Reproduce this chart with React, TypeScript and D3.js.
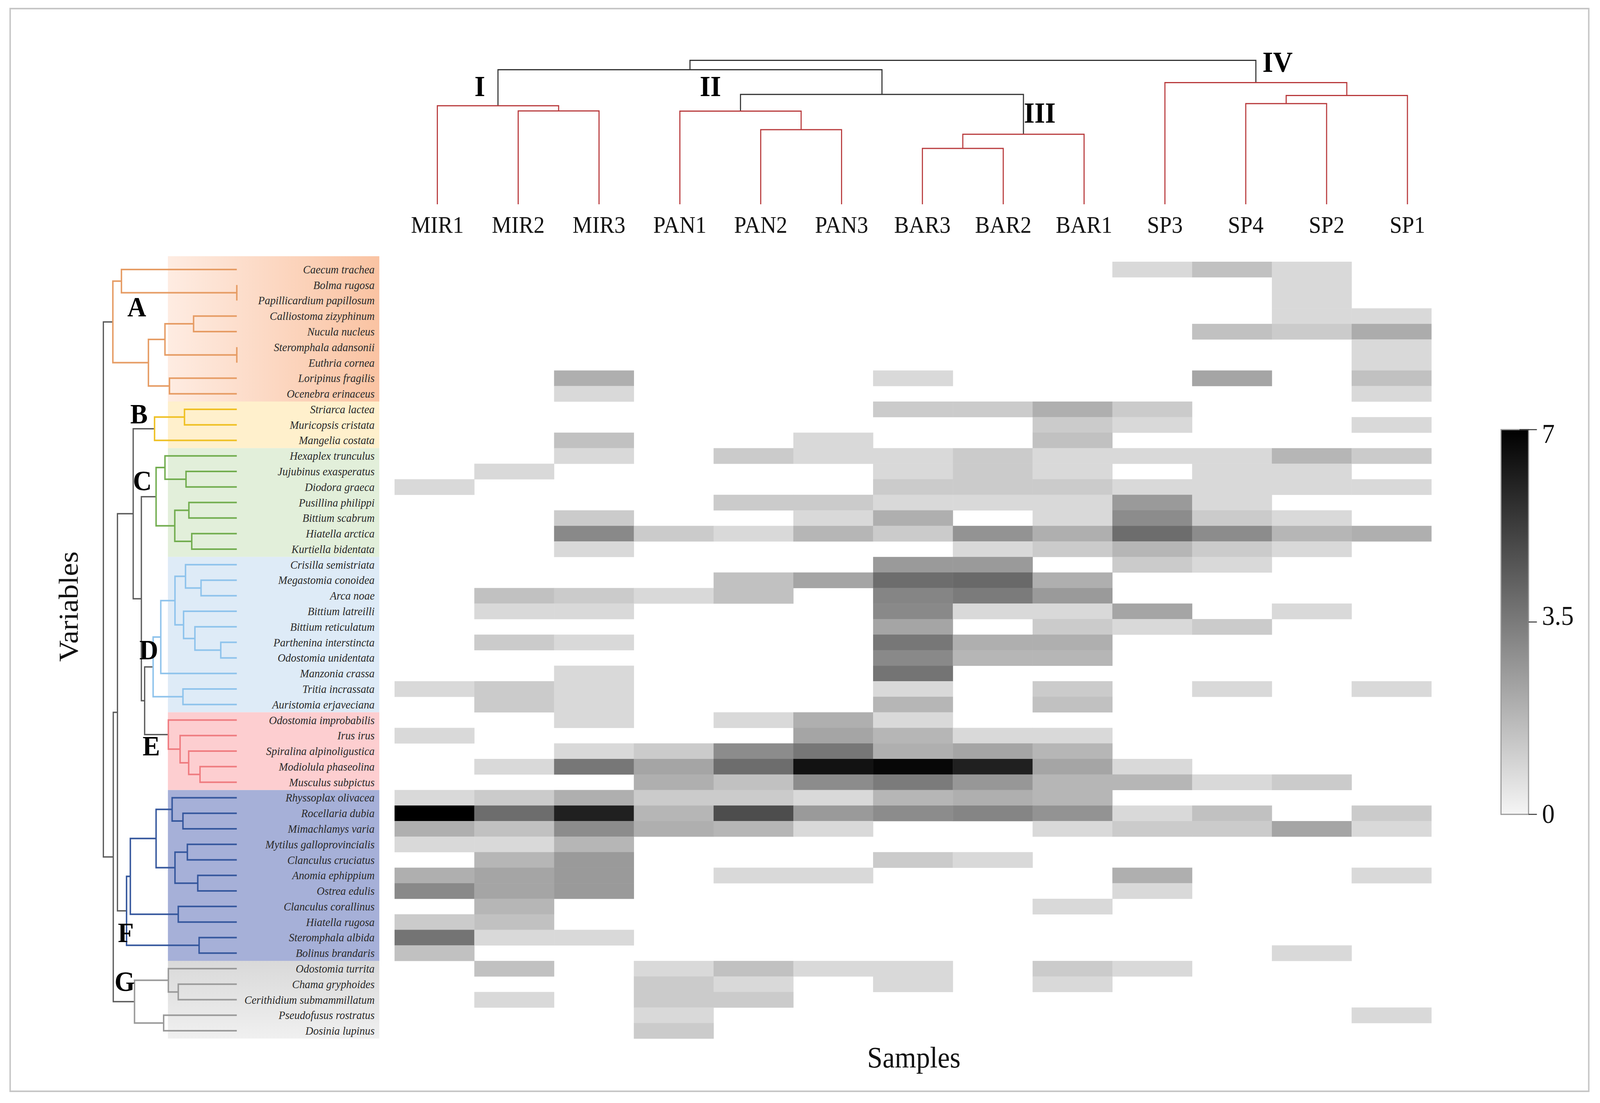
import * as d3 from "d3";

type Tree = { name?: string; height?: number; group?: string; children?: Tree[] };
const leaf = (c: Tree | string): Tree => (typeof c === "string" ? { name: c } : c);
const n = (height: number, a: Tree | string, b: Tree | string, group?: string): Tree => ({
  height,
  group,
  children: [leaf(a), leaf(b)],
});

// heatmap columns, in the order of the sample dendrogram
const samples = ["MIR1", "MIR2", "MIR3", "PAN1", "PAN2", "PAN3", "BAR3", "BAR2", "BAR1", "SP3", "SP4", "SP2", "SP1"];

const species = [
  "Caecum trachea", "Bolma rugosa", "Papillicardium papillosum", "Calliostoma zizyphinum", "Nucula nucleus",
  "Steromphala adansonii", "Euthria cornea", "Loripinus fragilis", "Ocenebra erinaceus",
  "Striarca lactea", "Muricopsis cristata", "Mangelia costata",
  "Hexaplex trunculus", "Jujubinus exasperatus", "Diodora graeca", "Pusillina philippi", "Bittium scabrum",
  "Hiatella arctica", "Kurtiella bidentata",
  "Crisilla semistriata", "Megastomia conoidea", "Arca noae", "Bittium latreilli", "Bittium reticulatum",
  "Parthenina interstincta", "Odostomia unidentata", "Manzonia crassa", "Tritia incrassata", "Auristomia erjaveciana",
  "Odostomia improbabilis", "Irus irus", "Spiralina alpinoligustica", "Modiolula phaseolina", "Musculus subpictus",
  "Rhyssoplax olivacea", "Rocellaria dubia", "Mimachlamys varia", "Mytilus galloprovincialis", "Clanculus cruciatus",
  "Anomia ephippium", "Ostrea edulis", "Clanculus corallinus", "Hiatella rugosa", "Steromphala albida", "Bolinus brandaris",
  "Odostomia turrita", "Chama gryphoides", "Cerithidium submammillatum", "Pseudofusus rostratus", "Dosinia lupinus",
];

// transformed abundance, one row per species, one column per sample (0 = absent)
const abundance: number[][] = [
  [0, 0, 0, 0, 0, 0, 0, 0, 0, 0.8, 1.5, 0.8, 0],
  [0, 0, 0, 0, 0, 0, 0, 0, 0, 0, 0, 0.8, 0],
  [0, 0, 0, 0, 0, 0, 0, 0, 0, 0, 0, 0.8, 0],
  [0, 0, 0, 0, 0, 0, 0, 0, 0, 0, 0, 0.8, 0.8],
  [0, 0, 0, 0, 0, 0, 0, 0, 0, 0, 1.5, 1.2, 2.1],
  [0, 0, 0, 0, 0, 0, 0, 0, 0, 0, 0, 0, 0.8],
  [0, 0, 0, 0, 0, 0, 0, 0, 0, 0, 0, 0, 0.8],
  [0, 0, 2.0, 0, 0, 0, 0.8, 0, 0, 0, 2.3, 0, 1.5],
  [0, 0, 0.8, 0, 0, 0, 0, 0, 0, 0, 0, 0, 0.8],
  [0, 0, 0, 0, 0, 0, 1.2, 1.2, 2.0, 1.2, 0, 0, 0],
  [0, 0, 0, 0, 0, 0, 0, 0, 1.2, 0.8, 0, 0, 0.8],
  [0, 0, 1.5, 0, 0, 0.8, 0, 0, 1.5, 0, 0, 0, 0],
  [0, 0, 0.8, 0, 1.2, 0.8, 0.8, 1.2, 0.8, 0.8, 0.8, 1.8, 1.2],
  [0, 0.8, 0, 0, 0, 0, 0.8, 1.2, 0.8, 0, 0.8, 0.8, 0],
  [0.8, 0, 0, 0, 0, 0, 1.2, 1.2, 1.2, 0.8, 0.8, 0.8, 0.8],
  [0, 0, 0, 0, 1.2, 1.2, 0.8, 0.8, 0.8, 2.6, 0.8, 0, 0],
  [0, 0, 1.2, 0, 0, 0.8, 2.0, 0, 0.8, 3.0, 1.2, 0.8, 0],
  [0, 0, 3.1, 1.2, 0.8, 1.8, 1.2, 2.8, 2.0, 3.9, 3.0, 1.8, 2.0],
  [0, 0, 0.8, 0, 0, 0, 0, 0.8, 1.2, 1.8, 1.2, 0.8, 0],
  [0, 0, 0, 0, 0, 0, 2.6, 2.6, 0, 1.2, 0.8, 0, 0],
  [0, 0, 0, 0, 1.5, 2.3, 3.9, 4.0, 2.0, 0, 0, 0, 0],
  [0, 1.5, 1.2, 0.8, 1.5, 0, 3.2, 3.5, 2.6, 0, 0, 0, 0],
  [0, 0.8, 0.8, 0, 0, 0, 3.1, 0.8, 0.8, 2.3, 0, 0.8, 0],
  [0, 0, 0, 0, 0, 0, 2.3, 0, 1.2, 0.8, 1.2, 0, 0],
  [0, 1.2, 0.8, 0, 0, 0, 3.6, 2.0, 2.0, 0, 0, 0, 0],
  [0, 0, 0, 0, 0, 0, 3.1, 1.8, 1.8, 0, 0, 0, 0],
  [0, 0, 0.8, 0, 0, 0, 3.7, 0, 0, 0, 0, 0, 0],
  [0.8, 1.2, 0.8, 0, 0, 0, 0.8, 0, 1.2, 0, 0.8, 0, 0.8],
  [0, 1.2, 0.8, 0, 0, 0, 1.8, 0, 1.5, 0, 0, 0, 0],
  [0, 0, 0.8, 0, 0.8, 2.0, 0.8, 0, 0, 0, 0, 0, 0],
  [0.8, 0, 0, 0, 0, 2.3, 1.8, 0.8, 0.8, 0, 0, 0, 0],
  [0, 0, 0.8, 1.2, 3.0, 3.6, 2.0, 2.3, 1.8, 0, 0, 0, 0],
  [0, 0.8, 3.6, 2.3, 3.9, 6.5, 6.8, 6.1, 2.3, 0.8, 0, 0, 0],
  [0, 0, 0, 2.0, 1.5, 3.0, 3.5, 2.7, 1.8, 1.8, 0.8, 1.2, 0],
  [0.8, 1.2, 2.0, 1.2, 1.2, 0.8, 1.8, 2.0, 1.8, 0, 0, 0, 0],
  [7.0, 3.9, 6.1, 1.8, 4.8, 2.6, 3.0, 3.2, 2.8, 0.8, 1.5, 0, 1.2],
  [2.0, 1.5, 3.0, 2.0, 1.8, 0.8, 0, 0, 0.8, 1.2, 1.2, 2.3, 0.8],
  [0.8, 0.8, 1.8, 0, 0, 0, 0, 0, 0, 0, 0, 0, 0],
  [0, 1.8, 2.6, 0, 0, 0, 1.2, 0.8, 0, 0, 0, 0, 0],
  [2.0, 2.3, 2.6, 0, 0.8, 0.8, 0, 0, 0, 2.0, 0, 0, 0.8],
  [3.1, 2.3, 2.6, 0, 0, 0, 0, 0, 0, 0.8, 0, 0, 0],
  [0, 1.8, 0, 0, 0, 0, 0, 0, 0.8, 0, 0, 0, 0],
  [1.2, 1.5, 0, 0, 0, 0, 0, 0, 0, 0, 0, 0, 0],
  [3.7, 0.8, 0.8, 0, 0, 0, 0, 0, 0, 0, 0, 0, 0],
  [1.5, 0, 0, 0, 0, 0, 0, 0, 0, 0, 0, 0.8, 0],
  [0, 1.5, 0, 0.8, 1.5, 0.8, 0.8, 0, 1.2, 0.8, 0, 0, 0],
  [0, 0, 0, 1.2, 0.8, 0, 0.8, 0, 0.8, 0, 0, 0, 0],
  [0, 0.8, 0, 1.2, 1.2, 0, 0, 0, 0, 0, 0, 0, 0],
  [0, 0, 0, 0.8, 0, 0, 0, 0, 0, 0, 0, 0, 0.8],
  [0, 0, 0, 1.2, 0, 0, 0, 0, 0, 0, 0, 0, 0],
];

const colorTicks = [0, 3.5, 7];

// species dendrogram (merge heights)
const speciesTree = n(
  13.06,
  n(12.13,
    n(11.29, "Caecum trachea", n(0, "Bolma rugosa", "Papillicardium papillosum")),
    n(8.65,
      n(7.03, n(4.23, "Calliostoma zizyphinum", "Nucula nucleus"), n(0, "Steromphala adansonii", "Euthria cornea")),
      n(6.59, "Loripinus fragilis", "Ocenebra erinaceus")),
    "A"),
  n(12.09,
    n(11.68,
      n(10.14,
        n(8.05, n(5.12, "Striarca lactea", "Muricopsis cristata"), "Mangelia costata", "B"),
        n(9.34,
          n(7.9,
            n(7.03, "Hexaplex trunculus", n(4.97, "Jujubinus exasperatus", "Diodora graeca")),
            n(6.07, n(4.69, "Pusillina philippi", "Bittium scabrum"), n(4.41, "Hiatella arctica", "Kurtiella bidentata")),
            "C"),
          n(9.02,
            n(8.19,
              n(7.44,
                n(6.05,
                  n(5.02, "Crisilla semistriata", n(3.5, "Megastomia conoidea", "Arca noae")),
                  n(5.21, "Bittium latreilli", n(4.1, "Bittium reticulatum", n(1.57, "Parthenina interstincta", "Odostomia unidentata")))),
                "Manzonia crassa"),
              n(5.27, "Tritia incrassata", "Auristomia erjaveciana"),
              "D"),
            n(6.7, "Odostomia improbabilis",
              n(5.55, "Irus irus", n(4.71, "Spiralina alpinoligustica", n(3.6, "Modiolula phaseolina", "Musculus subpictus"))),
              "E")))),
      n(10.79,
        n(10.42,
          n(7.9,
            n(6.33, "Rhyssoplax olivacea", n(5.27, "Rocellaria dubia", "Mimachlamys varia")),
            n(6.05, n(4.84, "Mytilus galloprovincialis", "Clanculus cruciatus"), n(3.82, "Anomia ephippium", "Ostrea edulis"))),
          n(5.73, "Clanculus corallinus", "Hiatella rugosa")),
        n(3.69, "Steromphala albida", "Bolinus brandaris"),
        "F")),
    n(10.01,
      n(6.7, "Odostomia turrita", n(5.73, "Chama gryphoides", "Cerithidium submammillatum")),
      n(7.16, "Pseudofusus rostratus", "Dosinia lupinus"),
      "G"))
);

// sample dendrogram
const sampleTree = n(
  13.1,
  n(12.25,
    n(8.97, "MIR1", n(8.5, "MIR2", "MIR3"), "I"),
    n(10.0,
      n(8.48, "PAN1", n(6.79, "PAN2", "PAN3"), "II"),
      n(6.37, n(5.08, "BAR3", "BAR2"), "BAR1", "III"))),
  n(11.07, "SP3", n(9.9, n(9.16, "SP4", "SP2"), "SP1"), "IV")
);

const groupStyle: Record<string, { line: string; fill: string; fill2?: string; vertical?: boolean; dx: number; dy: number }> = {
  A: { line: "#e69c64", fill: "#feece2", fill2: "#fac3a2", dx: 66, dy: -14 },
  B: { line: "#efc022", fill: "#fff0cc", dx: -43, dy: -14 },
  C: { line: "#72ad4f", fill: "#e2efda", dx: -38, dy: -17 },
  D: { line: "#8ec3ec", fill: "#deebf7", dx: -12, dy: -19 },
  E: { line: "#ef7c80", fill: "#fdced0", dx: -47, dy: 53 },
  F: { line: "#35579d", fill: "#a6b0d8", dx: -2, dy: 80 },
  G: { line: "#9a9a9a", fill: "#d9d9d9", fill2: "#f0f0f0", vertical: true, dx: -27, dy: -28 },
};
const clusterOffset: Record<string, [number, number]> = { I: [-50, -25], II: [-83, -38], III: [45, -30], IV: [60, -28] };

const W = 4412;
const H = 2824;
const serif = "'Liberation Serif', 'Times New Roman', serif";

const colX = d3.scaleBand(samples, [1088, 3947]);
const rowY = d3.scaleBand(species, [670, 2659]);
const leafX = d3.scalePoint(samples, [1206, 3881]);
const hx = d3.scaleLinear([0, 13.06], [653, 285]);
const hy = d3.scaleLinear([0, 13.1], [523, 154.5]);
const shade = d3.scaleLinear<string>().domain([0, 7]).range(["#f5f5f5", "#000000"]);
const barY = d3.scaleLinear([0, 7], [2085, 1100]);

function layoutSpecies() {
  const root: any = d3.hierarchy(speciesTree);
  root.eachAfter((d: any) => {
    d.h = d.data.height ?? 0;
    d.pos = d.children ? d3.mean(d.children, (c: any) => c.pos) : rowY(d.data.name)! + rowY.bandwidth() / 2;
  });
  root.eachBefore((d: any) => {
    d.grp = d.data.group ?? d.parent?.grp;
  });
  const paths: { d: string; color: string; w: number }[] = [];
  const groups: any[] = [];
  root.each((d: any) => {
    if (d.data.group) groups.push(d);
    if (!d.children) return;
    const [a, b] = d.children;
    const x = hx(d.h);
    paths.push({
      d: `M${hx(a.h)},${a.pos}H${x}V${b.pos}H${hx(b.h)}`,
      color: d.grp ? groupStyle[d.grp].line : "#5a5a5a",
      w: d.grp ? 4 : 3.5,
    });
  });
  return { paths, groups };
}

function layoutSamples() {
  const root: any = d3.hierarchy(sampleTree);
  root.eachAfter((d: any) => {
    d.h = d.data.height ?? 0;
    d.pos = d.children ? d3.mean(d.children, (c: any) => c.pos) : leafX(d.data.name)!;
  });
  root.eachBefore((d: any) => {
    d.grp = d.data.group ?? d.parent?.grp;
  });
  const paths: { d: string; color: string }[] = [];
  const clusters: any[] = [];
  root.each((d: any) => {
    if (d.data.group) clusters.push(d);
    if (!d.children) return;
    const [a, b] = d.children;
    const y = hy(d.h);
    paths.push({
      d: `M${a.pos},${hy(a.h)}V${y}H${b.pos}V${hy(b.h)}`,
      color: d.grp ? "#b8393b" : "#333333",
    });
  });
  return { paths, clusters };
}

export default function App() {
  const sp = layoutSpecies();
  const sm = layoutSamples();
  const bw = colX.bandwidth();
  const bh = rowY.bandwidth();

  return (
    <svg
      viewBox={`0 0 ${W} ${H}`}
      preserveAspectRatio="none"
      style={{ position: "fixed", left: 0, top: 0, width: "100vw", height: "100vh", background: "#fff", display: "block" }}
    >
      <defs>
        {Object.entries(groupStyle)
          .filter(([, s]) => s.fill2)
          .map(([k, s]) => (
            <linearGradient key={k} id={`grad-${k}`} x1="0" y1="0" x2={s.vertical ? "0" : "1"} y2={s.vertical ? "1" : "0"}>
              <stop offset="0" stopColor={s.fill} />
              <stop offset="1" stopColor={s.fill2} />
            </linearGradient>
          ))}
        <linearGradient id="bar" x1="0" y1="1" x2="0" y2="0">
          <stop offset="0" stopColor={shade(0)} />
          <stop offset="1" stopColor={shade(7)} />
        </linearGradient>
      </defs>

      <rect x={28} y={22} width={4353} height={2772} fill="none" stroke="#c6c6c6" strokeWidth={4} />

      {/* group backgrounds */}
      {sp.groups.map((g: any) => {
        const names = g.leaves().map((l: any) => l.data.name);
        const y0 = rowY(names[0])!;
        const y1 = rowY(names[names.length - 1])! + bh;
        const s = groupStyle[g.data.group];
        return (
          <rect
            key={g.data.group}
            x={463}
            y={g.data.group === "A" ? y0 - 14 : y0}
            width={583}
            height={y1 - y0 + (g.data.group === "A" ? 14 : 0)}
            fill={s.fill2 ? `url(#grad-${g.data.group})` : s.fill}
          />
        );
      })}

      {/* heatmap */}
      {abundance.map((row, i) =>
        row.map((v, j) =>
          v > 0 ? (
            <rect
              key={`${i}-${j}`}
              x={colX(samples[j])!}
              y={rowY(species[i])!}
              width={bw + 0.5}
              height={bh + 0.5}
              fill={shade(v)}
            />
          ) : null
        )
      )}

      {/* species dendrogram */}
      <g fill="none">
        {sp.paths.map((p, i) => (
          <path key={i} d={p.d} stroke={p.color} strokeWidth={p.w} />
        ))}
      </g>

      {species.map((s) => (
        <text
          key={s}
          x={1033}
          y={rowY(s)! + bh / 2 + 10}
          textAnchor="end"
          fontFamily={serif}
          fontStyle="italic"
          fontSize={30}
          fill="#2a2a2a"
        >
          {s}
        </text>
      ))}

      {sp.groups.map((g: any) => {
        const s = groupStyle[g.data.group];
        return (
          <text
            key={g.data.group}
            x={hx(g.h) + s.dx}
            y={g.pos + s.dy}
            textAnchor="middle"
            fontFamily={serif}
            fontWeight="bold"
            fontSize={72}
            fill="#000"
          >
            {g.data.group}
          </text>
        );
      })}

      {/* sample dendrogram */}
      <g fill="none">
        {sm.paths.map((p, i) => (
          <path key={i} d={p.d} stroke={p.color} strokeWidth={3} />
        ))}
      </g>
      {sm.clusters.map((c: any) => (
        <text
          key={c.data.group}
          x={c.pos + clusterOffset[c.data.group][0]}
          y={hy(c.h) + clusterOffset[c.data.group][1]}
          textAnchor="middle"
          fontFamily={serif}
          fontWeight="bold"
          fontSize={75}
          fill="#000"
        >
          {c.data.group}
        </text>
      ))}
      {samples.map((s) => (
        <text key={s} x={leafX(s)!} y={596} textAnchor="middle" fontFamily={serif} fontSize={61} fill="#111">
          {s}
        </text>
      ))}

      <text x={2520} y={2733} textAnchor="middle" fontFamily={serif} fontSize={76} fill="#111">
        Samples
      </text>
      <text transform="translate(214,1553) rotate(-90)" textAnchor="middle" fontFamily={serif} fontSize={76} fill="#111">
        Variables
      </text>

      {/* colour bar */}
      <rect x={4139} y={barY(7)} width={76} height={barY(0) - barY(7)} fill="url(#bar)" stroke="#999" strokeWidth={3} />
      {colorTicks.map((t) => (
        <g key={t}>
          <line x1={t === 7 ? 4190 : 4215} x2={4238} y1={barY(t)} y2={barY(t)} stroke="#333" strokeWidth={2.5} />
          <text x={4252} y={barY(t)} dy={t === 7 ? 34 : t === 0 ? 22 : 8} fontFamily={serif} fontSize={70} fill="#111">
            {t}
          </text>
        </g>
      ))}
    </svg>
  );
}
